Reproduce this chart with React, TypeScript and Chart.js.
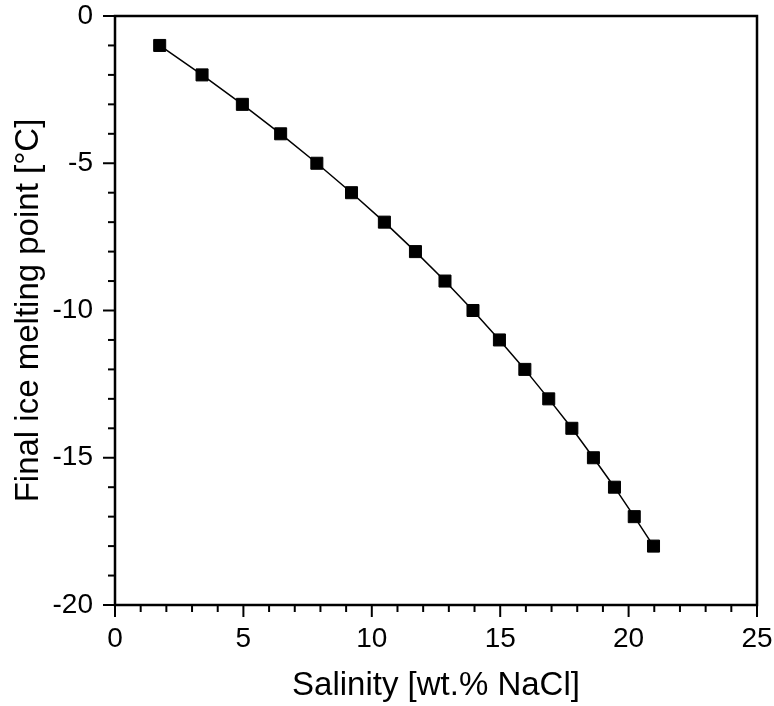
import React, { useEffect, useRef } from "react";
import { Chart, registerables } from "chart.js";

Chart.register(...registerables);

// Data: salinity (wt.% NaCl) vs final ice melting temperature (°C)
const salinity = [1.74, 3.39, 4.96, 6.45, 7.86, 9.21, 10.49, 11.7, 12.85, 13.94, 14.97, 15.96, 16.89, 17.79, 18.63, 19.45, 20.22, 20.97];
const meltingPoint = [-1, -2, -3, -4, -5, -6, -7, -8, -9, -10, -11, -12, -13, -14, -15, -16, -17, -18];

const xMajorTicks = [0, 5, 10, 15, 20, 25];
const yMajorTicks = [0, -5, -10, -15, -20];
const xMinorStep = 1;
const yMinorStep = 1;

const xTitle = "Salinity [wt.% NaCl]";
const yTitle = "Final ice melting point [°C]";

const FONT = "'Liberation Sans', Arial, Helvetica, sans-serif";

const framePlugin = {
  id: "frameAndTicks",
  afterDraw(chart: any) {
    const { ctx, chartArea } = chart;
    const xs = chart.scales.x;
    const ys = chart.scales.y;
    const { left, right, top, bottom } = chartArea;
    ctx.save();
    ctx.strokeStyle = "#000";
    ctx.lineWidth = 2;
    ctx.lineCap = "butt";
    const majorLen = 12;
    const minorLen = 7;
    for (let v = xs.min; v <= xs.max + 1e-9; v += xMinorStep) {
      const px = xs.getPixelForValue(v);
      const isMajor = xMajorTicks.some((t) => Math.abs(t - v) < 1e-9);
      ctx.beginPath();
      ctx.moveTo(px, bottom);
      ctx.lineTo(px, bottom + (isMajor ? majorLen : minorLen));
      ctx.stroke();
    }
    for (let v = ys.min; v <= ys.max + 1e-9; v += yMinorStep) {
      const py = ys.getPixelForValue(v);
      const isMajor = yMajorTicks.some((t) => Math.abs(t - v) < 1e-9);
      ctx.beginPath();
      ctx.moveTo(left, py);
      ctx.lineTo(left - (isMajor ? majorLen : minorLen), py);
      ctx.stroke();
    }
    ctx.lineWidth = 2.5;
    ctx.lineJoin = "miter";
    ctx.strokeRect(left, top, right - left, bottom - top);
    ctx.restore();
  },
};

export default function App() {
  const canvasRef = useRef<HTMLCanvasElement | null>(null);

  useEffect(() => {
    if (!canvasRef.current) return;
    const chart = new Chart(canvasRef.current, {
      type: "line",
      data: {
        datasets: [
          {
            data: salinity.map((s, i) => ({ x: s, y: meltingPoint[i] })),
            borderColor: "#000",
            borderWidth: 1.5,
            backgroundColor: "#000",
            pointStyle: "rect",
            pointRadius: 8.5,
            pointBorderWidth: 1,
            pointBorderColor: "#000",
            pointBackgroundColor: "#000",
            tension: 0,
            fill: false,
          },
        ],
      },
      options: {
        animation: false,
        responsive: true,
        maintainAspectRatio: false,
        layout: { padding: { left: 0, top: 16, right: 17, bottom: 0 } },
        plugins: { legend: { display: false }, tooltip: { enabled: false } },
        scales: {
          x: {
            type: "linear",
            min: 0,
            max: 25,
            grid: { display: false, drawTicks: false },
            border: { display: false },
            afterBuildTicks: (scale: any) => {
              scale.ticks = xMajorTicks.map((v) => ({ value: v }));
            },
            afterFit: (scale: any) => {
              scale.height = 101;
              scale.paddingLeft = 0;
              scale.paddingRight = 0;
            },
            ticks: {
              color: "#000",
              padding: 20,
              maxRotation: 0,
              font: { family: FONT, size: 28, lineHeight: 1 },
            },
            title: {
              display: true,
              text: xTitle,
              color: "#000",
              padding: { top: 0, bottom: 0 },
              font: { family: FONT, size: 33, lineHeight: 1.2 },
            },
          },
          y: {
            type: "linear",
            min: -20,
            max: 0,
            grid: { display: false, drawTicks: false },
            border: { display: false },
            afterBuildTicks: (scale: any) => {
              scale.ticks = yMajorTicks.slice().reverse().map((v) => ({ value: v }));
            },
            afterFit: (scale: any) => {
              scale.width = 115;
              scale.paddingTop = 0;
              scale.paddingBottom = 0;
            },
            ticks: {
              color: "#000",
              padding: 22,
              font: { family: FONT, size: 28, lineHeight: 1 },
            },
            title: {
              display: true,
              text: yTitle,
              color: "#000",
              padding: { top: 9, bottom: 0 },
              font: { family: FONT, size: 33, lineHeight: 1.2 },
            },
          },
        },
      },
      plugins: [framePlugin],
    });
    return () => chart.destroy();
  }, []);

  return (
    <div style={{ position: "absolute", left: 0, top: 0, width: 774, height: 706, background: "#fff" }}>
      <canvas ref={canvasRef} />
    </div>
  );
}
